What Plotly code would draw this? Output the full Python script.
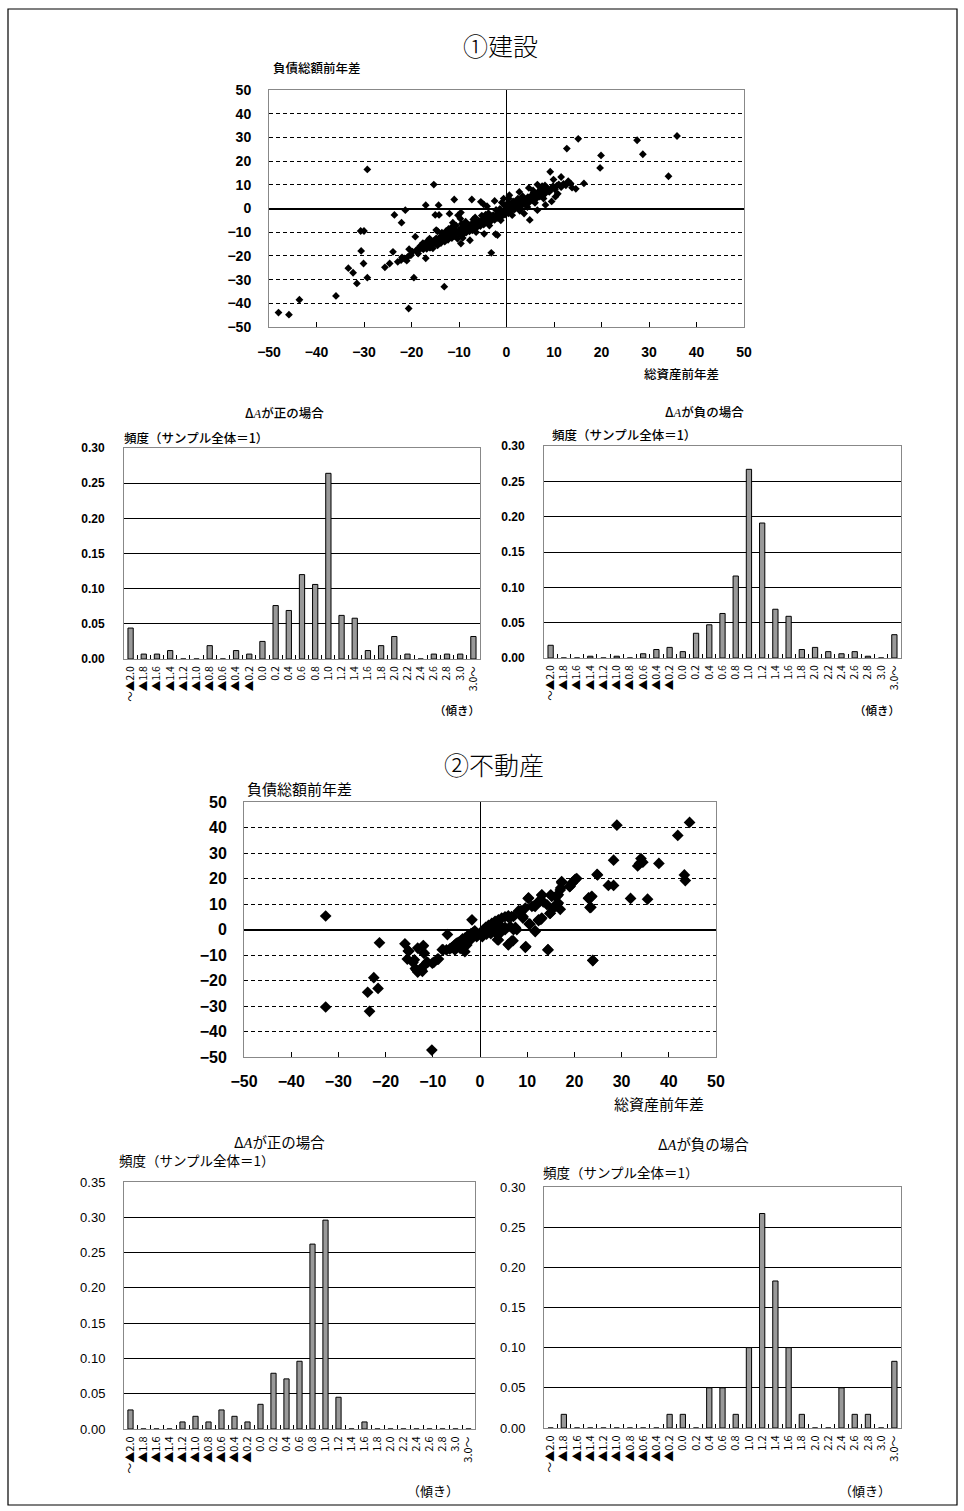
import plotly.graph_objects as go

W, H = 964, 1511

# ---------------- data ----------------
categories = ["～▲2.0", "▲1.8", "▲1.6", "▲1.4", "▲1.2", "▲1.0", "▲0.8", "▲0.6", "▲0.4", "▲0.2",
              "0.0", "0.2", "0.4", "0.6", "0.8", "1.0", "1.2", "1.4", "1.6", "1.8",
              "2.0", "2.2", "2.4", "2.6", "2.8", "3.0", "3.0～"]

con_pos = [0.044, 0.007, 0.007, 0.012, 0, 0, 0.019, 0, 0.012, 0.007,
           0.025, 0.076, 0.069, 0.120, 0.106, 0.264, 0.062, 0.058, 0.012, 0.019,
           0.032, 0.007, 0, 0.007, 0.007, 0.007, 0.032]
con_neg = [0.018, 0, 0, 0.0025, 0, 0.0025, 0, 0.006, 0.012, 0.015,
           0.009, 0.035, 0.047, 0.063, 0.116, 0.267, 0.191, 0.069, 0.059, 0.012,
           0.015, 0.009, 0.006, 0.009, 0.0025, 0, 0.033]
re_pos = [0.027, 0, 0, 0, 0.010, 0.018, 0.010, 0.027, 0.018, 0.010,
          0.035, 0.079, 0.071, 0.096, 0.262, 0.296, 0.045, 0, 0.010, 0,
          0, 0, 0, 0, 0, 0, 0]
re_neg = [0, 0.017, 0, 0, 0, 0, 0, 0, 0, 0.017,
          0.017, 0, 0.05, 0.05, 0.017, 0.10, 0.267, 0.183, 0.10, 0.017,
          0, 0, 0.05, 0.017, 0.017, 0, 0.083]

# construction scatter (総資産前年差, 負債総額前年差)
con_pts = [
    (-48.0, -43.9), (-45.8, -44.8), (-43.6, -38.5), (-35.9, -36.9), (-33.3, -25.2), (-32.3, -27.1),
    (-31.5, -31.6), (-30.6, -17.9), (-30.7, -9.5), (-30.0, -9.5), (-30.1, -23.2), (-29.3, -29.2),
    (-29.3, 16.5), (-25.6, -24.8), (-24.6, -23.2), (-23.9, -18.3), (-23.6, -2.7), (-22.1, -6.0),
    (-21.3, -0.7), (-20.5, -17.2), (-20.6, -42.2), (-20.3, -19.7), (-19.5, -29.2), (-19.2, -11.9),
    (-18.2, -15.9), (-17.0, 1.4), (-17.0, -21.0), (-15.3, 10.1), (-15.0, -2.7), (-14.3, 1.4),
    (-14.2, -2.7), (-14.8, -9.1), (-13.1, -33.0), (-11.0, 3.8), (-12.0, -2.2), (-7.3, 3.8),
    (-3.2, -18.7), (-2.3, -10.8), (-1.9, -11.2), (4.9, -4.8), (4.7, 8.7), (9.2, 15.5), (9.9, 12.2),
    (11.5, 13.3), (12.7, 25.3), (15.1, 29.4), (16.3, 10.6), (13.8, 8.8), (14.6, 8.3), (19.7, 17.1),
    (19.9, 22.4), (27.5, 28.8), (28.7, 22.9), (34.1, 13.6), (35.9, 30.6),
    (-22.9, -22.5), (-22.2, -21.8), (-21.5, -21.1), (-20.8, -20.4), (-20.1, -19.7), (-22.0, -20.6),
    (-21.0, -22.0), (-9.6, -1.7), (-5.4, 2.8), (-2.5, 3.2), (-17.8, -16.2), (-16.7, -13.8),
    (-16.2, -12.7), (-14.5, -9.6), (-4.7, -10.7), (-7.7, -13.4), (-9.6, -14.8), (-18.4, -16.8),
    (-16.0, -16.5), (-16.4, -13.7), (6.5, 10.1), (7.2, 8.7), (2.7, 7.0), (0.6, 5.6), (13.0, 11.5),
    (13.5, 10.6), (10.3, 5.0), (10.8, 6.2), (-10.2, -2.9), (-9.7, -4.3), (-11.3, -6.0), (-12.7, -9.5),
    (-4.8, 1.7), (-4.1, 1.0), (-1.0, 2.5), (0.5, 4.2), (5.7, 6.6), (6.8, 7.3), (7.5, 9.4), (8.1, 9.7),
    (9.0, 7.3), (3.7, -2.1), (6.5, -0.7), (8.2, 1.5), (9.5, 3.0),
    (-18.5, -17.5), (-18.0, -16.8), (-17.5, -17.2), (-17.0, -15.8), (-16.8, -17.0), (-16.5, -15.0),
    (-16.2, -16.5), (-16.0, -14.2), (-15.8, -15.5), (-15.5, -16.8), (-15.2, -13.5), (-15.0, -14.8),
    (-14.8, -12.6), (-14.5, -15.5), (-14.3, -13.8), (-14.0, -12.0), (-13.8, -14.6), (-13.5, -13.0),
    (-13.2, -11.2), (-13.0, -14.0), (-12.8, -12.4), (-12.5, -10.8), (-12.3, -13.2), (-12.0, -11.6),
    (-11.8, -9.8), (-11.5, -12.5), (-11.3, -10.6), (-11.0, -8.8), (-10.8, -11.8), (-10.5, -10.0),
    (-10.3, -12.8), (-10.0, -9.2), (-9.8, -10.8), (-9.5, -8.2), (-9.3, -11.2), (-9.0, -9.6),
    (-8.8, -7.6), (-8.5, -10.2), (-8.3, -8.8), (-8.0, -7.2), (-7.8, -9.6), (-7.5, -8.0), (-7.3, -6.4),
    (-7.0, -8.8), (-6.8, -7.2), (-6.5, -5.8), (-6.3, -8.0), (-6.0, -6.6), (-5.8, -5.2), (-5.5, -7.4),
    (-5.3, -6.0), (-5.0, -4.6), (-4.8, -6.8), (-4.5, -5.4), (-4.3, -4.0), (-4.0, -6.0), (-3.8, -4.8),
    (-3.5, -3.4), (-3.3, -5.4), (-3.0, -4.2), (-2.8, -2.8), (-2.5, -4.8), (-2.3, -3.6), (-2.0, -2.2),
    (-1.8, -4.0), (-1.5, -2.8), (-1.3, -1.6), (-1.0, -3.4), (-0.8, -2.0), (-0.5, -0.8), (-0.3, -2.6),
    (0.0, -1.4), (0.2, 0.2), (0.4, -2.0), (0.6, -0.6), (0.8, 1.0), (1.0, -1.2), (1.2, 0.4), (1.5, 1.8),
    (1.7, -0.4), (2.0, 1.0), (2.2, 2.6), (2.5, 0.4), (2.7, 1.8), (3.0, 3.2), (3.2, 1.2), (3.5, 2.6),
    (3.8, 4.0), (4.0, 1.8), (4.3, 3.4), (4.5, 4.8), (4.8, 2.6), (5.0, 4.2), (5.3, 5.6), (5.5, 3.4),
    (5.8, 5.0), (6.0, 6.4), (6.3, 4.2), (6.5, 5.8), (6.8, 7.0), (7.0, 5.0), (7.3, 6.6), (7.6, 7.8),
    (8.0, 6.0), (8.3, 7.4), (8.6, 8.6), (9.0, 7.0), (9.4, 8.4), (9.8, 9.4), (10.2, 8.0), (10.6, 9.6),
    (11.0, 10.2), (11.5, 9.0), (12.0, 10.4), (12.5, 9.8), (13.0, 11.2),
    (-8.2, -9.0), (-7.7, -7.0), (-7.2, -9.2), (-6.6, -6.8), (-6.1, -7.6), (-5.6, -6.2), (-5.1, -5.4),
    (-4.6, -6.2), (-4.1, -4.8), (-3.6, -5.0), (-3.1, -3.2), (-2.6, -3.8), (-2.1, -3.0), (-1.6, -1.8),
    (-1.1, -2.4), (-0.6, -1.6), (-0.1, -0.4), (0.5, -0.2), (1.1, 0.6), (1.6, 0.4), (2.1, 1.8),
    (2.6, 2.2), (3.1, 2.0), (3.6, 3.4), (4.1, 3.0), (4.6, 3.8), (5.1, 5.0), (6.2, 5.6), (7.4, 7.0),
    (0.3, 2.4), (-0.4, 1.2), (1.4, 3.0), (-1.4, -0.2), (2.4, 4.2), (-3.8, -2.0), (-5.2, -3.0),
    (-7.0, -4.6), (-9.4, -6.4), (-11.6, -8.0), (-0.6, 4.2),
    (-19.8, -18.2), (-19.0, -17.6), (-18.6, -19.0), (-17.6, -14.6), (-13.6, -10.2), (-12.2, -8.6),
    (-10.6, -7.2), (-8.6, -5.6), (-6.6, -3.8), (-4.4, -2.6), (-2.2, -0.6), (-0.2, 1.0), (1.8, 2.8),
    (3.4, 5.2), (5.6, 7.6), (-9.2, -12.4), (-6.4, -10.0), (-3.6, -7.2), (-1.2, -5.0), (1.2, -2.8),
    (2.8, -1.0), (4.4, 0.6), (6.0, 2.4), (7.8, 4.2),
]
con_dA = [p[0] for p in con_pts]
con_dL = [p[1] for p in con_pts]

# real estate scatter
re_pts = [
    (-32.7, 5.3), (-32.7, -30.4), (-23.8, -24.6), (-23.4, -32.1), (-22.5, -18.9), (-21.6, -23.1),
    (-21.3, -5.2), (-15.9, -5.6), (-15.4, -11.6), (-15.1, -8.5), (-13.9, -11.9), (-13.5, -15.8),
    (-13.2, -16.7), (-12.6, -15.4), (-12.2, -16.4), (-13.2, -7.3), (-12.1, -6.6), (-11.9, -9.3),
    (-11.3, -12.9), (-10.1, -13.2), (-10.2, -47.3), (-8.8, -11.6), (-6.9, -2.0), (-8.0, -7.9),
    (-1.7, 3.8), (29.0, 40.9), (44.4, 42.0), (41.9, 36.9), (28.3, 27.2), (34.1, 27.8), (33.8, 25.9),
    (33.4, 24.9), (34.5, 26.4), (37.9, 25.9), (24.9, 21.4), (43.3, 21.4), (43.5, 19.2), (27.2, 17.3),
    (28.3, 17.3), (31.9, 12.2), (35.5, 11.9), (23.0, 12.2), (23.5, 12.6), (23.3, 8.6), (23.9, -12.1),
    (14.4, -7.9), (9.6, -7.0), (17.3, 18.8), (19.0, 16.8), (19.5, 18.1), (20.0, 19.2), (20.2, 19.7),
    (17.0, 15.5), (16.6, 13.6), (16.0, 12.9), (15.0, 13.6), (13.1, 13.6), (10.2, 12.2), (12.2, 10.6),
    (11.5, 9.3), (15.7, 9.0), (16.2, 9.3), (17.0, 7.9), (14.8, 6.3), (12.9, 4.0), (12.4, 3.5),
    (10.4, 2.2), (11.7, -0.8), (9.1, 5.1), (8.7, 7.0), (8.2, 7.4), (7.1, 5.1), (6.0, 4.8), (7.0, -4.4),
    (6.0, -6.0), (3.7, -4.0), (4.5, -0.8), (5.3, -0.1), (7.5, 0.8),
    (-15.2, -8.4), (-14.2, -12.9), (-13.7, -15.3), (-13.1, -16.3), (-12.4, -15.9), (-11.7, -13.9),
    (-12.0, -6.3), (-11.8, -9.3), (-11.1, -12.9), (-9.8, -12.9), (-9.0, -11.6), (-7.8, -8.0),
    (-7.1, -8.0), (-6.4, -7.6), (-6.0, -7.1), (-5.4, -6.1), (-5.0, -5.4), (-4.6, -5.0), (-4.1, -4.5),
    (-3.7, -3.7), (-3.2, -3.4), (-2.8, -2.8), (-2.3, -2.1), (-1.9, -1.6), (-1.4, -1.1), (-1.1, -0.5),
    (-5.3, -8.0), (-4.2, -7.4), (-3.2, -8.7), (-2.8, -6.1), (-3.9, -5.4), (-2.5, -4.5), (-1.8, -3.7),
    (-0.7, -2.8), (-0.4, -2.1), (0.2, -1.1), (0.7, -0.1), (1.2, 0.8), (1.8, 1.6), (2.5, 2.4),
    (3.2, 3.2), (3.9, 3.8), (4.6, 4.5), (5.3, 5.0), (6.0, 5.4), (6.7, 5.1), (0.5, -2.8), (1.4, -1.8),
    (2.3, -1.6), (3.2, -1.1), (3.9, -2.1), (3.9, -4.1), (2.5, -0.1), (3.2, 1.2), (4.2, 1.8), (5.3, 0.8),
    (6.4, 1.2), (7.1, -0.1), (7.8, -0.1), (6.0, -5.8), (6.7, -4.5), (9.7, -6.7), (10.6, 2.1),
    (11.7, -0.5), (8.7, 7.4), (9.6, 8.4), (9.1, 4.5), (10.3, 12.4), (11.0, 9.1), (11.7, 9.1),
    (13.1, 13.4), (12.7, 11.1), (13.4, 10.8), (14.2, 9.7), (12.4, 3.8), (13.1, 4.5), (14.9, 6.4),
    (15.6, 8.4), (15.2, 13.0), (16.3, 13.0), (16.6, 10.4), (14.4, -8.0), (17.1, 16.3), (17.3, 18.3),
    (19.1, 17.0), (19.5, 18.3), (20.2, 19.6), (20.5, 20.0), (24.8, 21.6), (23.0, 12.4), (23.7, 13.0),
    (23.5, 8.7), (23.9, -12.2),
]
re_dA = [p[0] for p in re_pts]
re_dL = [p[1] for p in re_pts]

y_ticks_scatter = [-50, -40, -30, -20, -10, 0, 10, 20, 30, 40, 50]

# ---------------- helpers ----------------
JP = "Noto Sans CJK JP"
NUM = "Liberation Sans, Noto Sans CJK JP"


def dx(a, b):
    return [a / W, b / W]


def dy(top, bottom):
    return [1 - bottom / H, 1 - top / H]


def px(x):
    return x / W


def py(y):
    return 1 - y / H


fig = go.Figure()

fig.add_trace(go.Scatter(x=con_dA, y=con_dL, mode="markers", xaxis="x", yaxis="y",
                         marker=dict(symbol="diamond", size=6, color="black"),
                         showlegend=False, hoverinfo="skip"))
fig.add_trace(go.Scatter(x=re_dA, y=re_dL, mode="markers", xaxis="x2", yaxis="y2",
                         marker=dict(symbol="diamond", size=9, color="black"),
                         showlegend=False, hoverinfo="skip"))

hist_sets = [(con_pos, "x3", "y3"), (con_neg, "x4", "y4"), (re_pos, "x5", "y5"), (re_neg, "x6", "y6")]
for vals, xa, ya in hist_sets:
    fig.add_trace(go.Bar(x=categories, y=vals, xaxis=xa, yaxis=ya, width=0.4,
                         marker=dict(color="#999999", line=dict(color="black", width=1)),
                         showlegend=False, hoverinfo="skip"))


def scatter_axes(xdom, ydom, anchor_x, anchor_y, fsize, standoff_x, standoff_y):
    xa = dict(domain=xdom, anchor=anchor_y, range=[-50, 50], dtick=10, showgrid=False,
              zeroline=True, zerolinecolor="black", zerolinewidth=1,
              showline=True, linecolor="#888888", linewidth=1, mirror=True,
              ticks="inside", ticklen=5, tickcolor="black", tickwidth=1,
              tickfont=dict(family=NUM, size=fsize, color="black", weight=600),
              ticklabelstandoff=standoff_x, fixedrange=True)
    ya = dict(domain=ydom, anchor=anchor_x, range=[-50, 50], tickvals=y_ticks_scatter,
              showgrid=True, gridcolor="black", gridwidth=1, griddash="4px,3px",
              zeroline=True, zerolinecolor="black", zerolinewidth=2,
              showline=True, linecolor="#888888", linewidth=1, mirror=True,
              ticks="", tickfont=dict(family=NUM, size=fsize, color="black", weight=600),
              ticklabelstandoff=standoff_y, fixedrange=True)
    return xa, ya


def hist_axes(xdom, ydom, anchor_x, anchor_y, ymax, fsize, xfsize, standoff_y, yweight):
    xa = dict(domain=xdom, anchor=anchor_y, type="category", categoryorder="array",
              categoryarray=categories, range=[-0.5, 26.5], showgrid=False, zeroline=False,
              tickmode="array", tickvals=categories, ticktext=categories,
              showline=True, linecolor="#888888", linewidth=1, mirror=True,
              ticks="inside", tickson="boundaries", ticklen=4, tickcolor="black", tickwidth=1,
              tickangle=-90, tickfont=dict(family=JP, size=xfsize, color="black"),
              ticklabelstandoff=2, fixedrange=True)
    ya = dict(domain=ydom, anchor=anchor_x, range=[0, ymax], dtick=0.05, tickformat=".2f",
              showgrid=True, gridcolor="black", gridwidth=1, zeroline=False,
              showline=True, linecolor="#888888", linewidth=1, mirror=True,
              ticks="", tickfont=dict(family=NUM, size=fsize, color="black", weight=yweight),
              ticklabelstandoff=standoff_y, fixedrange=True)
    return xa, ya


x1, y1 = scatter_axes(dx(269, 744), dy(90, 327), "x", "y", 14, 12, 14)
x2, y2 = scatter_axes(dx(244, 716), dy(802, 1057), "x2", "y2", 16, 10, 13)
x3, y3 = hist_axes(dx(124, 480), dy(448, 659), "x3", "y3", 0.30, 12, 10.5, 16, 600)
x4, y4 = hist_axes(dx(544, 901), dy(446, 658), "x4", "y4", 0.30, 12, 10.5, 16, 600)
x5, y5 = hist_axes(dx(124, 475), dy(1182, 1429), "x5", "y5", 0.35, 13, 11, 15, 400)
x6, y6 = hist_axes(dx(544, 901), dy(1187, 1428), "x6", "y6", 0.30, 13, 11, 15, 400)

annotations = []


def note(text, x, y, size, xanchor="left", family=JP, weight=None):
    f = dict(family=family, size=size, color="black")
    if weight:
        f["weight"] = weight
    annotations.append(dict(text=text, x=px(x), y=py(y), xref="paper", yref="paper",
                            xanchor=xanchor, yanchor="middle", showarrow=False, font=f))


note("①建設", 500, 45, 25, "center", weight=300)
note("②不動産", 494, 764, 25, "center", weight=300)
note("負債総額前年差", 271, 67, 12.5, weight=500)
note("総資産前年差", 642, 373, 12.5, weight=500)
note("負債総額前年差", 245, 788, 15)
note("総資産前年差", 612, 1103, 15)

dA = "Δ<span style='font-family:Liberation Serif'><i>A</i></span>"
note(dA + "が正の場合", 284, 412, 12.5, "center", weight=500)
note(dA + "が負の場合", 704, 411, 12.5, "center", weight=500)
note("頻度（サンプル全体＝1）", 122, 438, 12.5, weight=500)
note("頻度（サンプル全体＝1）", 550, 434, 12.5, weight=500)
note("（傾き）", 457, 710, 11.5, "center", weight=500)
note("（傾き）", 877, 710, 11.5, "center", weight=500)

note(dA + "が正の場合", 279, 1141, 14.5, "center")
note(dA + "が負の場合", 703, 1143, 14.5, "center")
note("頻度（サンプル全体＝1）", 117, 1160, 13.5)
note("頻度（サンプル全体＝1）", 541, 1172, 13.5)
note("（傾き）", 433, 1490, 13, "center")
note("（傾き）", 865, 1490, 13, "center")

shapes = [dict(type="rect", xref="paper", yref="paper", x0=px(8), x1=px(957), y0=py(1505), y1=py(9),
               line=dict(color="black", width=1.2), fillcolor="rgba(0,0,0,0)", layer="below")]

fig.update_layout(
    width=W, height=H, autosize=False,
    margin=dict(l=0, r=0, t=0, b=0, autoexpand=False),
    paper_bgcolor="white", plot_bgcolor="white",
    font=dict(family=JP, color="black"),
    xaxis=x1, yaxis=y1, xaxis2=x2, yaxis2=y2, xaxis3=x3, yaxis3=y3,
    xaxis4=x4, yaxis4=y4, xaxis5=x5, yaxis5=y5, xaxis6=x6, yaxis6=y6,
    annotations=annotations, shapes=shapes, bargap=0.6,
)

fig.write_html("out.html", config={"displayModeBar": False},
               post_script="document.body.style.margin='0';document.body.style.padding='0';")
